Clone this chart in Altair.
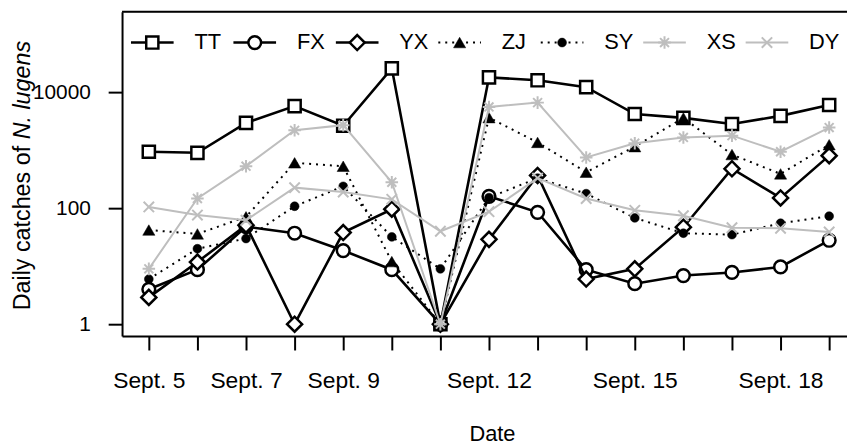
import altair as alt
import pandas as pd

# ---- data ----
days = list(range(15))  # 0 = Sept. 5 ... 14 = Sept. 19
series = ["TT", "FX", "YX", "ZJ", "SY", "XS", "DY"]
TT = [940, 900, 2950, 5750, 2640, 25700, 1, 18000, 16000, 12200, 4200, 3600, 2830, 3900, 6000]
FX = [4.0, 8.7, 48, 37, 18.6, 8.7, 1, 160, 85, 8.7, 5.0, 6.9, 7.8, 9.7, 28]
YX = [2.9, 11.8, 51, 1, 38, 96, 1, 29, 366, 6.0, 9, 47, 478, 150, 805]
ZJ = [42, 36, 71, 605, 528, 12, 1, 3640, 1360, 417, 1150, 3600, 840, 390, 1240]
SY = [6.0, 20, 30, 108, 238, 32, 9, 152, 330, 178, 68, 37, 35, 55, 73]
XS = [9, 147, 530, 2200, 2700, 280, 1, 5560, 6600, 750, 1320, 1660, 1780, 940, 2450]
DY = [105, 76, 62, 226, 190, 142, 40, 87, 330, 147, 92, 74, 46, 45, 39]
values = {"TT": TT, "FX": FX, "YX": YX, "ZJ": ZJ, "SY": SY, "XS": XS, "DY": DY}
labelled_days = [0, 2, 4, 7, 10, 13]
y_ticks = [1, 100, 10000]

rows = []
for s in series:
    for d, v in zip(days, values[s]):
        rows.append({"series": s, "day": d, "value": v})
df = pd.DataFrame(rows)

FONT = "Liberation Sans"
GRAY = "#BEBEBE"
W, H = 731, 327

ASTER = "M-1,0L1,0M0,-1L0,1M-0.71,-0.71L0.71,0.71M-0.71,0.71L0.71,-0.71"
XMARK = "M-1,-1L1,1M-1,1L1,-1"

styles = {
    "TT": dict(line=dict(color="black", strokeWidth=2.6),
               pt=dict(shape="square", size=150, filled=True, fill="white", stroke="black", strokeWidth=2.5)),
    "FX": dict(line=dict(color="black", strokeWidth=2.6),
               pt=dict(shape="circle", size=165, filled=True, fill="white", stroke="black", strokeWidth=2.5)),
    "YX": dict(line=dict(color="black", strokeWidth=2.6),
               pt=dict(shape="diamond", size=230, filled=True, fill="white", stroke="black", strokeWidth=2.5)),
    "ZJ": dict(line=dict(color="black", strokeWidth=2, strokeDash=[2, 5]),
               pt=dict(shape="triangle-up", size=150, filled=True, fill="black", stroke="black", strokeWidth=0.5)),
    "SY": dict(line=dict(color="black", strokeWidth=2, strokeDash=[2, 5]),
               pt=dict(shape="circle", size=80, filled=True, fill="black", stroke="black", strokeWidth=0.5)),
    "XS": dict(line=dict(color=GRAY, strokeWidth=2),
               pt=dict(shape=ASTER, size=160, filled=False, stroke=GRAY, strokeWidth=2)),
    "DY": dict(line=dict(color=GRAY, strokeWidth=2),
               pt=dict(shape=XMARK, size=110, filled=False, stroke=GRAY, strokeWidth=2)),
}

label_expr = ("indexof([" + ",".join(str(d) for d in labelled_days) +
              "], datum.value) >= 0 ? 'Sept. ' + (datum.value + 5) : ''")

xenc = alt.X("day:Q",
             scale=alt.Scale(domain=[-0.551, 14.367], nice=False, zero=False),
             axis=alt.Axis(values=days, labelExpr=label_expr, grid=False,
                           domainWidth=2, domainColor="black", tickWidth=2, tickColor="black",
                           tickSize=14, labelFontSize=23, labelFont=FONT, labelColor="black",
                           labelPadding=20, labelOverlap=False, labelFlush=False,
                           title="Date", titleFont=FONT, titleFontSize=22, titleFontWeight="normal",
                           titleColor="black", titleX=373, titleY=105, titleBaseline="alphabetic",
                           titleAlign="center", titleAnchor="start"))
yenc = alt.Y("value:Q",
             scale=alt.Scale(type="log", domain=[0.624, 242661], nice=False),
             axis=alt.Axis(values=y_ticks, format="d", grid=False,
                           domainWidth=2, domainColor="black", tickWidth=2, tickColor="black",
                           tickSize=14, labelFontSize=21, labelFont=FONT, labelColor="black",
                           labelPadding=18, title=None))

base = alt.Chart(df)
layers = []
for s in series:
    st = styles[s]
    sub = base.transform_filter(alt.datum.series == s)
    layers.append(sub.mark_line(**st["line"]).encode(x=xenc, y=yenc))
    layers.append(sub.mark_point(opacity=1, **st["pt"]).encode(x=xenc, y=yenc))

# top border of the box
one = pd.DataFrame({"k": [0]})
layers.append(alt.Chart(one).mark_rule(color="black", strokeWidth=2).encode(
    x=alt.value(0), x2=alt.value(W), y=alt.value(0)))

# legend drawn inside the plot (one row)
lx0, lstep, ly = 9, 103.3, 31
for i, s in enumerate(series):
    st = styles[s]
    lx = lx0 + i * lstep
    lr = dict(st["line"])
    col = lr.pop("color")
    layers.append(alt.Chart(one).mark_rule(color=col, **lr).encode(
        x=alt.value(lx), x2=alt.value(lx + 43), y=alt.value(ly)))
    layers.append(alt.Chart(one).mark_point(opacity=1, **st["pt"]).encode(
        x=alt.value(lx + 21.5), y=alt.value(ly)))
    layers.append(alt.Chart(pd.DataFrame({"t": [s]})).mark_text(
        font=FONT, fontSize=22, align="left", baseline="middle", color="black").encode(
        x=alt.value(lx + 64), y=alt.value(ly), text="t:N"))

# y-axis title with italic species name
TFS = 23.5
part1 = "Daily catches of"
part2 = "N. lugens"
w1 = (0.722 + 0.556 + 0.222 + 0.222 + 0.5 + 0.278 + 0.5 + 0.556 + 0.278 + 0.5 + 0.556 + 0.556 + 0.5
      + 0.278 + 0.556 + 0.278 + 0.278) * TFS
ty0 = 301
layers.append(alt.Chart(pd.DataFrame({"t": [part1]})).mark_text(
    font=FONT, fontSize=TFS, angle=270, align="left", baseline="alphabetic", color="black").encode(
    x=alt.value(-93), y=alt.value(ty0), text="t:N"))
layers.append(alt.Chart(pd.DataFrame({"t": [part2]})).mark_text(
    font=FONT, fontSize=TFS, fontStyle="italic", angle=270, align="left", baseline="alphabetic",
    color="black").encode(
    x=alt.value(-93), y=alt.value(ty0 - w1), text="t:N"))

chart = alt.layer(*layers).properties(
    width=W, height=H,
    autosize=alt.AutoSizeParams(type="none"),
    padding={"left": 115, "top": 2, "right": 0, "bottom": 111},
).configure_view(stroke=None).configure(background="white")

chart.save("out.html", embed_options={"renderer": "svg", "actions": False})
